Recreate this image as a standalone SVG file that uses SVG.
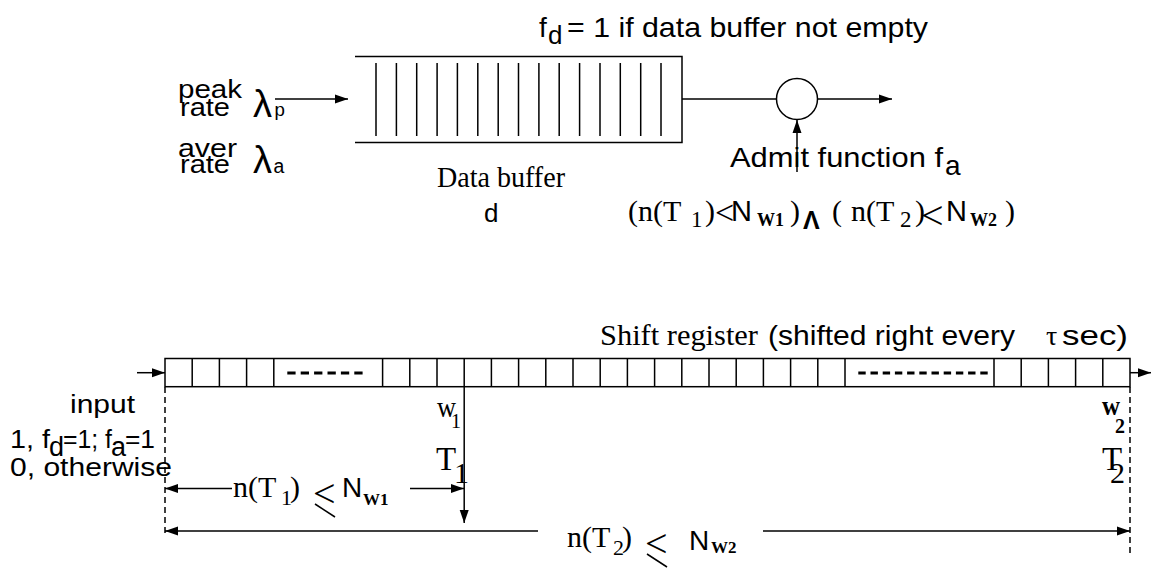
<svg xmlns="http://www.w3.org/2000/svg" width="1151" height="568" viewBox="0 0 1151 568">
<style>
.ln{stroke:#000;stroke-width:1.5;fill:none}
.dash{stroke:#000;stroke-width:1.5;fill:none;stroke-dasharray:6 4}
.dots{stroke:#000;stroke-width:3;fill:none}
.s{font-family:"Liberation Sans",Arial,sans-serif;fill:#000}
.r{font-family:"Liberation Serif","Times New Roman",serif;fill:#000}
.m{font-family:"Liberation Mono","Courier New",monospace;fill:#000}
.b{font-weight:bold}
</style>
<defs>
<marker id="ah" markerUnits="userSpaceOnUse" markerWidth="13" markerHeight="10" refX="13" refY="5" orient="auto">
<path d="M0,0.5 L13,5 L0,9.5 z" fill="#000"/>
</marker>
</defs>
<rect width="1151" height="568" fill="#fff"/>

<g id="data-buffer">
<path class="ln" d="M355,56.5 H682 V142.5 H355"/>
<path class="ln" d="M376,63V136 M396.4,63V136 M416.7,63V136 M437.1,63V136 M457.4,63V136 M477.8,63V136 M498.2,63V136 M518.5,63V136 M538.9,63V136 M559.2,63V136 M579.6,63V136 M600,63V136 M620.3,63V136 M640.7,63V136 M661,63V136"/>
<text class="r" x="437" y="187" font-size="29" textLength="128" lengthAdjust="spacingAndGlyphs">Data buffer</text>
<text class="s" x="484" y="222" font-size="26">d</text>
</g>

<g id="rate-labels">
<text class="s" x="178" y="98" font-size="25" textLength="64" lengthAdjust="spacingAndGlyphs">peak</text>
<text class="s" x="180" y="116" font-size="25" textLength="50" lengthAdjust="spacingAndGlyphs">rate</text>
<text class="s" x="253" y="117" font-size="38">λ</text>
<text class="m" x="274" y="116" font-size="19">p</text>
<text class="s" x="178" y="157" font-size="25" textLength="59" lengthAdjust="spacingAndGlyphs">aver</text>
<text class="s" x="180" y="173" font-size="25" textLength="50" lengthAdjust="spacingAndGlyphs">rate</text>
<text class="s" x="253" y="173" font-size="38">λ</text>
<text class="m" x="273" y="173" font-size="20">a</text>
</g>

<g id="fd-label">
<text class="s" x="539" y="37" font-size="28">f</text>
<text class="s" x="548" y="44" font-size="26">d</text>
<text class="s" x="567" y="37" font-size="28" textLength="361" lengthAdjust="spacingAndGlyphs">= 1 if data buffer not empty</text>
</g>

<g id="admit-node">
<circle class="ln" cx="797" cy="99" r="20.5"/>
<text class="s" x="730" y="167" font-size="28" textLength="213" lengthAdjust="spacingAndGlyphs">Admit function f</text>
<text class="s" x="945" y="175" font-size="28">a</text>
</g>

<g id="admit-condition">
<text class="r" x="628" y="221" font-size="30">(n(T</text>
<text class="r" x="691" y="227" font-size="23">1</text>
<text class="r" x="705" y="221" font-size="30">)</text>
<text class="r" x="715" y="224" font-size="34">&lt;</text>
<text class="s" x="731" y="221" font-size="29">N</text>
<text class="r b" x="757" y="226" font-size="18">W1</text>
<text class="r" x="790" y="221" font-size="30">)</text>
<text class="s b" x="803" y="229" font-size="25">Λ</text>
<text class="r" x="832" y="221" font-size="30">(</text>
<text class="r" x="851" y="221" font-size="30">n(T</text>
<text class="r" x="900" y="227" font-size="23">2</text>
<text class="r" x="915" y="221" font-size="30">)</text>
<text class="r" x="921" y="229" font-size="40">&lt;</text>
<text class="s" x="946" y="221" font-size="29">N</text>
<text class="r b" x="970" y="226" font-size="18">W2</text>
<text class="r" x="1005" y="221" font-size="30">)</text>
</g>

<g id="shift-register">
<rect class="ln" x="165" y="358.5" width="965" height="28.2"/>
<path class="ln" d="M192.2,358.5V386.7 M219.4,358.5V386.7 M246.6,358.5V386.7 M273.8,358.5V386.7 M382.6,358.5V386.7 M409.8,358.5V386.7 M437,358.5V386.7 M464.2,358.5V386.7 M491.4,358.5V386.7 M518.6,358.5V386.7 M545.8,358.5V386.7 M573,358.5V386.7 M600.2,358.5V386.7 M627.4,358.5V386.7 M654.6,358.5V386.7 M681.8,358.5V386.7 M709,358.5V386.7 M736.2,358.5V386.7 M763.4,358.5V386.7 M790.6,358.5V386.7 M817.8,358.5V386.7 M845,358.5V386.7 M994,358.5V386.7 M1021.2,358.5V386.7 M1048.4,358.5V386.7 M1075.6,358.5V386.7 M1102.8,358.5V386.7"/>
<line class="dots" x1="287.3" y1="373" x2="362.6" y2="373" stroke-dasharray="8.3 5.1"/>
<line class="dots" x1="858.3" y1="373" x2="987.7" y2="373" stroke-dasharray="7.4 4.8"/>
<text class="r" x="600" y="345" font-size="30" textLength="158" lengthAdjust="spacingAndGlyphs">Shift register</text>
<text class="s" x="768" y="345" font-size="28" textLength="247" lengthAdjust="spacingAndGlyphs">(shifted right every</text>
<text class="r" x="1046" y="345" font-size="28">τ</text>
<text class="s" x="1062" y="345" font-size="28" textLength="66" lengthAdjust="spacingAndGlyphs">sec)</text>
</g>

<g id="input-label">
<text class="s" x="70" y="413" font-size="25" textLength="65" lengthAdjust="spacingAndGlyphs">input</text>
<text class="s" x="10" y="448" font-size="26" textLength="40" lengthAdjust="spacingAndGlyphs">1, f</text>
<text class="s" x="49" y="456" font-size="27">d</text>
<text class="s" x="63" y="448" font-size="26" textLength="49" lengthAdjust="spacingAndGlyphs">=1; f</text>
<text class="s" x="111" y="456" font-size="27">a</text>
<text class="s" x="125" y="448" font-size="26" textLength="30" lengthAdjust="spacingAndGlyphs">=1</text>
<text class="s" x="10" y="476" font-size="25" textLength="162" lengthAdjust="spacingAndGlyphs">0, otherwise</text>
</g>

<g id="w1-tap">
<text class="r" x="437" y="417" font-size="30" textLength="19" lengthAdjust="spacingAndGlyphs">w</text>
<text class="r" x="451" y="428" font-size="20">1</text>
<text class="r" x="436" y="470" font-size="33">T</text>
<text class="r" x="454" y="483" font-size="30">1</text>
</g>

<g id="w2-tap">
<text class="r b" x="1102" y="415" font-size="28" textLength="18" lengthAdjust="spacingAndGlyphs">w</text>
<text class="r b" x="1115" y="433" font-size="20">2</text>
<text class="r" x="1102" y="470" font-size="33">T</text>
<text class="r" x="1110" y="483" font-size="30">2</text>
</g>

<g id="window1-label">
<text class="r" x="233" y="497" font-size="30">n(T</text>
<text class="r" x="281" y="505" font-size="22">1</text>
<text class="r" x="290" y="497" font-size="30">)</text>
<text class="r" x="313" y="507" font-size="40">&lt;</text>
<line class="ln" x1="315" y1="504" x2="335" y2="517"/>
<text class="s" x="342" y="497" font-size="28">N</text>
<text class="r b" x="363" y="505" font-size="17">W1</text>
</g>

<g id="window2-label">
<text class="r" x="567" y="547" font-size="30">n(T</text>
<text class="r" x="613" y="555" font-size="22">2</text>
<text class="r" x="622" y="547" font-size="30">)</text>
<text class="r" x="645" y="557" font-size="40">&lt;</text>
<line class="ln" x1="647" y1="554" x2="667" y2="567"/>
<text class="s" x="689" y="550" font-size="28">N</text>
<text class="r b" x="711" y="553" font-size="17">W2</text>
</g>

<g id="connectors">
<line class="ln" x1="275" y1="99" x2="348" y2="99" marker-end="url(#ah)"/>
<line class="ln" x1="682" y1="99" x2="776.5" y2="99"/>
<line class="ln" x1="817.5" y1="99" x2="892" y2="99" marker-end="url(#ah)"/>
<line class="ln" x1="797" y1="172" x2="797" y2="120" marker-end="url(#ah)"/>
<line class="ln" x1="137" y1="372.7" x2="165" y2="372.7" marker-end="url(#ah)"/>
<line class="ln" x1="1130" y1="372.7" x2="1151" y2="372.7" marker-end="url(#ah)"/>
<line class="dash" x1="165" y1="387" x2="165" y2="536"/>
<line class="dash" x1="1130" y1="387" x2="1130" y2="556"/>
<line class="ln" x1="464.2" y1="386.7" x2="464.2" y2="523" marker-end="url(#ah)"/>
<line class="ln" x1="232" y1="488.5" x2="165" y2="488.5" marker-end="url(#ah)"/>
<line class="ln" x1="410" y1="488.5" x2="464" y2="488.5" marker-end="url(#ah)"/>
<line class="ln" x1="538" y1="531" x2="165" y2="531" marker-end="url(#ah)"/>
<line class="ln" x1="763" y1="531" x2="1130" y2="531" marker-end="url(#ah)"/>
</g>
</svg>
